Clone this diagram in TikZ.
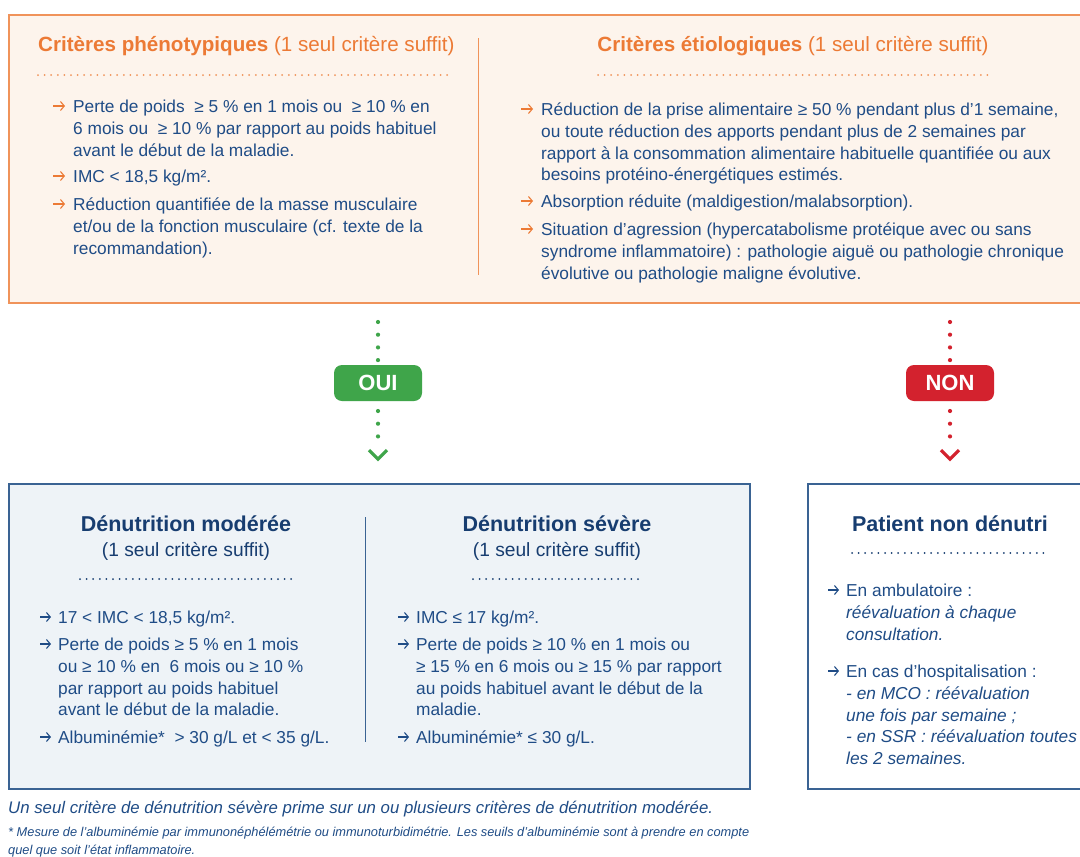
\documentclass[tikz,border=0pt]{standalone}
\usepackage{fontspec}
\setmainfont{Liberation Sans}
\usetikzlibrary{arrows.meta}
\definecolor{orT}{HTML}{EC7A35}
\definecolor{orB}{HTML}{F0935A}
\definecolor{peach}{HTML}{FDF4EC}
\definecolor{tblue}{HTML}{1F4C86}
\definecolor{navy}{HTML}{173D70}
\definecolor{bbord}{HTML}{3A6393}
\definecolor{bfill}{HTML}{EEF3F7}
\definecolor{gr}{HTML}{3FA54A}
\definecolor{rd}{HTML}{D3222E}
% name, arrow start x, arrow end x, text x, line centre y, colour, text
\newcommand\bitem[7]{%
  \draw[barrow,#6] (#2,#5) -- (#3,#5);
  \node[txt] (#1) at (#4,#5-8.5) {\strut#7};
}
\begin{document}
\begin{tikzpicture}[x=1pt,y=-1pt,
  txt/.style={font=\fontsize{17.3}{21.7}\selectfont, text=tblue, align=left, inner sep=0pt, anchor=north west},
  barrow/.style={line width=1.1pt, -{Straight Barb[length=3.8pt,width=9pt,line width=1.1pt]}},
  ttl/.style={font=\fontsize{20.6}{24}\selectfont, inner sep=0pt},
  btl/.style={font=\fontsize{21.5}{24}\selectfont\bfseries, inner sep=0pt, text=navy},
  sub/.style={font=\fontsize{19.2}{22}\selectfont, inner sep=0pt, text=navy},
  dotline/.style={line width=2pt, dash pattern=on 0pt off 6.6pt, line cap=round},
  conn/.style={line width=4.2pt, dash pattern=on 0pt off 12.7pt, line cap=round},
  chev/.style={line width=3.2pt},
  tag/.style={rounded corners=8pt, minimum width=88pt, minimum height=36pt, inner sep=0pt, text=white, font=\fontsize{22}{24}\selectfont\bfseries},
  divider/.style={line width=1pt}
]
\useasboundingbox[fill=white] (0,0) rectangle (1080,857);
% top box
\node[draw=orB, line width=1.5pt, fill=peach, anchor=north west, minimum width=1090pt, minimum height=288pt, inner sep=0pt] (top) at (8,14) {};
\draw[orB, divider] (478,38) -- (478,275);
\node[ttl, anchor=west, text=orT] (t1) at (38,46) {\textbf{Critères phénotypiques} (1 seul critère suffit)};
\draw[orB, dotline] (38,75) -- (453,75);
\node[ttl, anchor=center, text=orT] (t2) at (793,46) {\textbf{Critères étiologiques} (1 seul critère suffit)};
\draw[orB, dotline] (598,75) -- (988,75);
\bitem{pa}{53}{65}{73}{106}{orT}{Perte de poids \ ≥ 5 \% en 1 mois ou \ ≥ 10 \% en\\6 mois ou \ ≥ 10 \% par rapport au poids habituel\\avant le début de la maladie.}
\bitem{pb}{53}{65}{73}{176}{orT}{IMC < 18,5 kg/m².}
\bitem{pc}{53}{65}{73}{204}{orT}{Réduction quantifiée de la masse musculaire\\et/ou de la fonction musculaire (cf. texte de la\\recommandation).}
\bitem{ea}{521}{533}{541}{109}{orT}{Réduction de la prise alimentaire ≥ 50 \% pendant plus d’1 semaine,\\ou toute réduction des apports pendant plus de 2 semaines par\\rapport à la consommation alimentaire habituelle quantifiée ou aux\\besoins protéino-énergétiques estimés.}
\bitem{eb}{521}{533}{541}{201}{orT}{Absorption réduite (maldigestion/malabsorption).}
\bitem{ec}{521}{533}{541}{229}{orT}{Situation d’agression (hypercatabolisme protéique avec ou sans\\syndrome inflammatoire) : pathologie aiguë ou pathologie chronique\\évolutive ou pathologie maligne évolutive.}
% OUI / NON
\node[tag, fill=gr] (oui) at (378,383) {OUI};
\node[tag, fill=rd] (non) at (950,383) {NON};
\coordinate (ouiS) at (378,322);
\coordinate (ouiE) at (378,448.1);
\coordinate (nonS) at (950,322);
\coordinate (nonE) at (950,448.1);
\draw[gr, conn] (ouiS) -- ([yshift=-3pt]oui.north);
\draw[gr, conn] (oui.south) ++(0,9.8) -- (ouiE);
\draw[gr, chev] ([xshift=-9pt,yshift=-2pt]ouiE) -- ([yshift=-11pt]ouiE) -- ([xshift=9pt,yshift=-2pt]ouiE);
\draw[rd, conn] (nonS) -- ([yshift=-3pt]non.north);
\draw[rd, conn] (non.south) ++(0,9.8) -- (nonE);
\draw[rd, chev] ([xshift=-9pt,yshift=-2pt]nonE) -- ([yshift=-11pt]nonE) -- ([xshift=9pt,yshift=-2pt]nonE);
% bottom left box
\node[draw=bbord, line width=1.5pt, fill=bfill, anchor=north west, minimum width=741pt, minimum height=305pt, inner sep=0pt] (den) at (8,483) {};
\draw[bbord, divider] (365,517) -- (365,742);
\node[btl] (m1) at (186,524) {Dénutrition modérée};
\node[sub] (m2) at (186,551) {(1 seul critère suffit)};
\draw[navy, dotline] (80,579) -- (292,579);
\node[btl] (s1) at (557,524) {Dénutrition sévère};
\node[sub] (s2) at (557,551) {(1 seul critère suffit)};
\draw[navy, dotline] (473,579) -- (641,579);
\bitem{ma}{40}{51}{58}{617}{tblue}{17 < IMC < 18,5 kg/m².}
\bitem{mb}{40}{51}{58}{644}{tblue}{Perte de poids ≥ 5 \% en 1 mois\\ou ≥ 10 \% en \ 6 mois ou ≥ 10 \%\\par rapport au poids habituel\\avant le début de la maladie.}
\bitem{mc}{40}{51}{58}{737}{tblue}{Albuminémie* \ > 30 g/L et < 35 g/L.}
\bitem{sa}{398}{409}{416}{617}{tblue}{IMC ≤ 17 kg/m².}
\bitem{sb}{398}{409}{416}{644}{tblue}{Perte de poids ≥ 10 \% en 1 mois ou\\≥ 15 \% en 6 mois ou ≥ 15 \% par rapport\\au poids habituel avant le début de la\\maladie.}
\bitem{sc}{398}{409}{416}{737}{tblue}{Albuminémie* ≤ 30 g/L.}
% right box
\node[draw=bbord, line width=1.5pt, fill=white, anchor=north west, minimum width=290pt, minimum height=305pt, inner sep=0pt] (pnd) at (807,483) {};
\node[btl] (n1) at (950,524) {Patient non dénutri};
\draw[navy, dotline] (852,553) -- (1047,553);
\bitem{na}{828}{839}{846}{590}{tblue}{En ambulatoire :\\\itshape réévaluation à chaque\\\itshape consultation.}
\bitem{nb}{828}{839}{846}{671}{tblue}{En cas d'hospitalisation :\\\itshape - en MCO : réévaluation\\\itshape une fois par semaine ;\\\itshape - en SSR : réévaluation toutes\\\itshape les 2 semaines.}
% footer
\node[anchor=west, inner sep=0pt, text=tblue, font=\fontsize{16.8}{18}\selectfont\itshape] (f1) at (8,809) {Un seul critère de dénutrition sévère prime sur un ou plusieurs critères de dénutrition modérée.};
\node[anchor=north west, inner sep=0pt, align=left, text=tblue, font=\fontsize{12.8}{18.5}\selectfont\itshape] (f2) at (8,823) {\strut * Mesure de l'albuminémie par immunonéphélémétrie ou immunoturbidimétrie. Les seuils d'albuminémie sont à prendre en compte\\quel que soit l'état inflammatoire.};
\end{tikzpicture}
\end{document}
